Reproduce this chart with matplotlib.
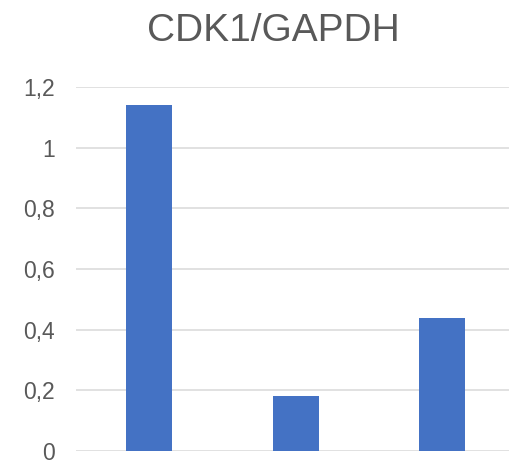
import matplotlib.pyplot as plt
from matplotlib.ticker import FuncFormatter

# values
categories = ["1", "2", "3"]
ratios = [1.14, 0.18, 0.44]
y_ticks = [0, 0.2, 0.4, 0.6, 0.8, 1.0, 1.2]

plt.rcParams['font.family'] = ['Liberation Sans', 'DejaVu Sans']

fig = plt.figure(figsize=(5.10, 4.61), dpi=100)
ax = fig.add_axes([76 / 510, 1 - 451 / 461, 1 - 76 / 510, (451 - 87) / 461])

x = range(len(categories))
ax.bar(x, ratios, width=0.314, color="#4472C4", zorder=3)

ax.set_ylim(0, 1.2)
ax.set_xlim(-0.5, (510 - 76.4) / 146.3 - 0.5)
ax.set_yticks(y_ticks)
ax.yaxis.set_major_formatter(FuncFormatter(lambda v, p: f"{v:g}".replace(".", ",")))
ax.set_xticks([])
ax.tick_params(axis="y", length=0, pad=15, labelsize=16.5, labelcolor="#595959")
ax.grid(axis="y", color="#d9d9d9", linewidth=1.1, zorder=0)
for s in ax.spines.values():
    s.set_visible(False)

fig.text(273 / 510, 1 - 31 / 461, "CDK1/GAPDH", ha="center", va="center",
         fontsize=28, color="#595959")

fig.savefig("out.png", dpi=100)
